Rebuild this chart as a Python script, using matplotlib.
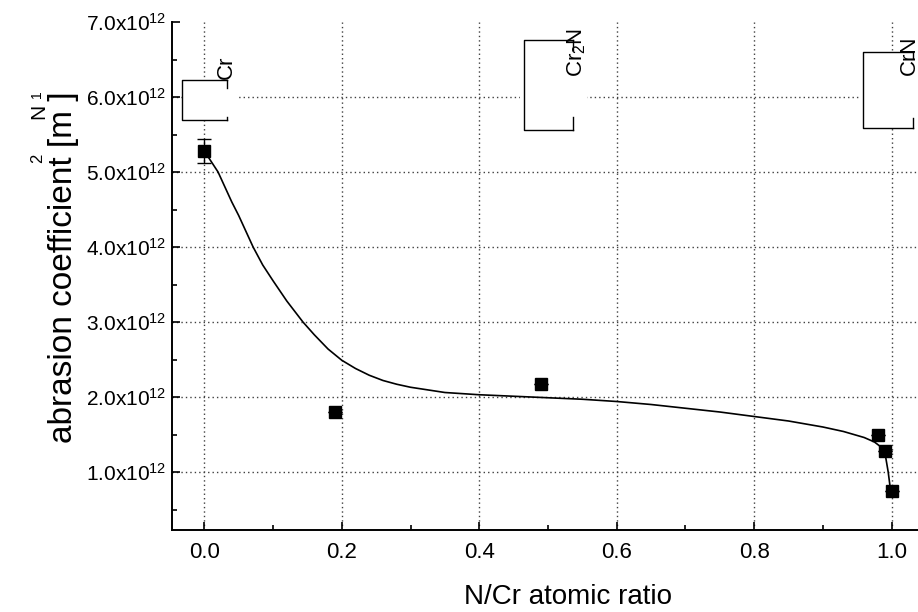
import matplotlib
matplotlib.use("Agg")
import matplotlib.pyplot as plt
from matplotlib.ticker import MultipleLocator, FixedLocator, FixedFormatter

plt.rcParams['font.family'] = ['Liberation Sans', 'DejaVu Sans']
plt.rcParams['mathtext.fontset'] = 'custom'
plt.rcParams['mathtext.rm'] = 'Liberation Sans'

# ---- data ----
ratio = [0.0, 0.19, 0.49, 0.98, 0.99, 1.0]
abrasion = [5.28e12, 1.80e12, 2.17e12, 1.50e12, 1.28e12, 0.75e12]
abrasion_err = [0.16e12, 0, 0, 0, 0, 0]

fit_x = [0.0, 0.01, 0.02, 0.03, 0.04, 0.05, 0.06, 0.071, 0.085, 0.1, 0.12,
         0.1435, 0.16, 0.18, 0.2, 0.22, 0.24, 0.26, 0.28, 0.3, 0.35, 0.4,
         0.45, 0.5, 0.55, 0.6, 0.65, 0.7, 0.75, 0.8, 0.85, 0.9, 0.93, 0.96,
         0.975, 0.985, 0.99, 0.995, 0.9985]
fit_y = [5.28e12, 5.14e12, 5.0e12, 4.8e12, 4.6e12, 4.42e12, 4.22e12, 4.0e12,
         3.76e12, 3.55e12, 3.28e12, 3.0e12, 2.83e12, 2.64e12, 2.49e12, 2.38e12,
         2.29e12, 2.22e12, 2.17e12, 2.13e12, 2.06e12, 2.03e12, 2.01e12,
         1.99e12, 1.97e12, 1.94e12, 1.90e12, 1.85e12, 1.80e12, 1.74e12,
         1.68e12, 1.60e12, 1.54e12, 1.46e12, 1.40e12, 1.33e12, 1.27e12,
         1.00e12, 0.75e12]

ytick_vals = [1e12, 2e12, 3e12, 4e12, 5e12, 6e12, 7e12]
ytick_labels = [r'$\mathregular{1.0x10^{12}}$', r'$\mathregular{2.0x10^{12}}$',
                r'$\mathregular{3.0x10^{12}}$', r'$\mathregular{4.0x10^{12}}$',
                r'$\mathregular{5.0x10^{12}}$', r'$\mathregular{6.0x10^{12}}$',
                r'$\mathregular{7.0x10^{12}}$']
phase_labels = ['Cr', r'Cr$\mathregular{_2}$N', 'CrN']

W, H = 918, 612
fig = plt.figure(figsize=(W / 100, H / 100), dpi=100)


def fx(px):
    return px / W


def fy(py):
    return 1 - py / H


ax = fig.add_axes([fx(172), fy(530), 754 / W, 508 / H])
ax.set_xlim(-0.047, 1.05)
ax.set_ylim(0.2267e12, 7.0e12)

ax.grid(True, which='major', linestyle=(0, (1, 2.2)), color='0.25', linewidth=1.0)
ax.set_axisbelow(True)

ax.plot(fit_x, fit_y, color='black', linewidth=1.2, zorder=3)
ax.errorbar(ratio, abrasion, yerr=abrasion_err, fmt='s', color='black',
            markersize=8, capsize=5, elinewidth=1.0, capthick=1.0, zorder=4)

ax.xaxis.set_major_locator(MultipleLocator(0.2))
ax.xaxis.set_minor_locator(MultipleLocator(0.1))
ax.yaxis.set_major_locator(FixedLocator(ytick_vals))
ax.yaxis.set_major_formatter(FixedFormatter(ytick_labels))
ax.yaxis.set_minor_locator(MultipleLocator(0.5e12))
ax.xaxis.set_major_formatter(plt.FuncFormatter(lambda v, p: f'{v:.1f}'))

ax.tick_params(which='both', direction='in', top=False, right=False, width=1.2)
ax.tick_params(which='major', length=6)
ax.tick_params(which='minor', length=3.5)
ax.tick_params(axis='x', which='major', labelsize=16, pad=9)
ax.tick_params(axis='y', which='major', labelsize=15, pad=4)

for s in ['top', 'right']:
    ax.spines[s].set_visible(False)
for s in ['left', 'bottom']:
    ax.spines[s].set_linewidth(1.4)

ax.set_xlabel('N/Cr atomic ratio', fontsize=20)
ax.xaxis.set_label_coords((567.5 - 172) / 754, -(584 - 530) / 508)

# hide gridline on the top boundary
fig.canvas.draw()
ax.yaxis.get_gridlines()[-1].set_visible(False)

# y label (fragmented as in reference)
fig.text(fx(71.7), fy(267.5), 'abrasion coefficient [m ]', rotation=90,
         rotation_mode='anchor', ha='center', va='baseline', fontsize=24)
fig.text(fx(38), fy(158), '2', rotation=90, rotation_mode='anchor',
         ha='center', va='center', fontsize=12)
fig.text(fx(39), fy(111), 'N', rotation=90, rotation_mode='anchor',
         ha='center', va='center', fontsize=15)
fig.text(fx(37), fy(94), '1', rotation=90, rotation_mode='anchor',
         ha='center', va='center', fontsize=10)


# phase annotations with boxes
def phase_box(x0, x1, y0, y1, rt, rb, wx0, wx1):
    fig.patches.append(plt.Rectangle((fx(wx0), fy(y1)), fx(wx1) - fx(wx0), fy(y0) - fy(y1),
                                     transform=fig.transFigure, facecolor='white',
                                     edgecolor='none', zorder=5))
    kw = dict(transform=fig.transFigure, color='black', linewidth=1.0, zorder=6)
    fig.lines.append(plt.Line2D([fx(x1), fx(x0), fx(x0), fx(x1)],
                                [fy(y0), fy(y0), fy(y1), fy(y1)], **kw))
    fig.lines.append(plt.Line2D([fx(x1), fx(x1)], [fy(y0), fy(y0 + rt)], **kw))
    fig.lines.append(plt.Line2D([fx(x1), fx(x1)], [fy(y1 - rb), fy(y1)], **kw))


phase_box(182, 227, 80, 120, 8, 3, 182, 237)
phase_box(524, 573, 40, 130, 10, 13, 520, 587)
phase_box(863, 913, 52, 128, 6, 10, 860, 918)

fig.text(fx(226), fy(67), phase_labels[0], rotation=90, rotation_mode='anchor',
         ha='center', va='center', fontsize=16, zorder=7)
fig.text(fx(577), fy(52), phase_labels[1], rotation=90, rotation_mode='anchor',
         ha='center', va='center', fontsize=16, zorder=7)
fig.text(fx(909), fy(55), phase_labels[2], rotation=90, rotation_mode='anchor',
         ha='center', va='center', fontsize=16, zorder=7)

fig.savefig('out.png', dpi=100)
